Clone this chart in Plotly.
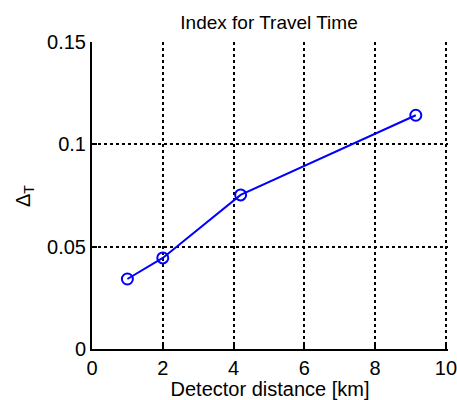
import plotly.graph_objects as go

distance_km = [1.0, 2.0, 4.2, 9.15]
delta_t = [0.0342, 0.0445, 0.0753, 0.1142]
x_ticks = [0, 2, 4, 6, 8, 10]
y_ticks = [0, 0.05, 0.1, 0.15]
y_tick_text = ["0", "0.05", "0.1", "0.15"]
y_grid = [0.05, 0.1]

FONT = "Liberation Sans, Arial, Helvetica, sans-serif"

X_MAX = 10.06  # slightly past 10 so the x=10 grid line is kept
plot_w = 354 * X_MAX / 10
r_margin = 457 - 92 - plot_w

fig = go.Figure()
# grid-only axis (drawn below data)
fig.add_trace(go.Scatter(x=[None], y=[None], yaxis="y2", showlegend=False, hoverinfo="skip"))
fig.add_trace(go.Scatter(
    x=distance_km, y=delta_t, mode="lines+markers",
    line=dict(color="#0000FF", width=2),
    marker=dict(symbol="circle-open", size=11, color="#0000FF", line=dict(width=2, color="#0000FF")),
    showlegend=False,
))

fig.update_layout(
    width=457, height=400,
    margin=dict(l=92, r=r_margin, t=42, b=51, autoexpand=False),
    paper_bgcolor="white", plot_bgcolor="white",
    font=dict(family=FONT, size=20, color="black"),
    title=dict(text="Index for Travel Time", x=(92 + 446) / 2 / 457, xanchor="center",
               y=1 - 22 / 400, yanchor="middle", font=dict(size=19)),
    xaxis=dict(range=[0, X_MAX], tickvals=x_ticks, ticks="inside", ticklen=5, tickwidth=1.5,
               tickcolor="black", showline=True, linecolor="black", linewidth=2,
               showgrid=True, gridcolor="black", griddash="dot", gridwidth=1.5,
               zeroline=False, tickfont=dict(size=20), automargin=False,
               ticklabeloverflow="allow",
               title=dict(text="Detector distance [km]", standoff=2, font=dict(size=20))),
    yaxis=dict(range=[0, 0.15], tickvals=y_ticks, ticktext=y_tick_text, ticks="inside",
               ticklen=5, tickwidth=1.5, tickcolor="black", showline=True, linecolor="black",
               linewidth=2, showgrid=False, zeroline=False, tickfont=dict(size=20),
               automargin=False, ticklabeloverflow="allow"),
    yaxis2=dict(range=[0, 0.15], overlaying="y", tickvals=y_grid, showticklabels=False,
                ticks="", showgrid=True, gridcolor="black", griddash="dot", gridwidth=1.5,
                zeroline=False, showline=False, automargin=False),
    annotations=[dict(text="Δ<sub>T</sub>", xref="paper", yref="paper",
                      x=(24 - 92) / plot_w, y=(349 - 196) / 307, textangle=-90,
                      showarrow=False, font=dict(size=20), xanchor="center", yanchor="middle")],
)

fig.write_html("out.html")
